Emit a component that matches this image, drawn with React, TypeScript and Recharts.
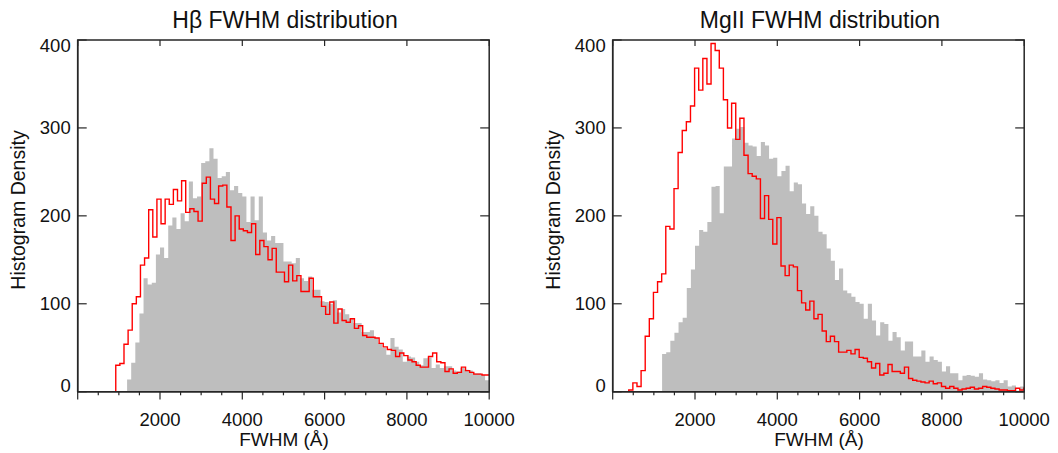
import { Area, ComposedChart, Line, XAxis, YAxis } from 'recharts'

const BIN = 100
const X_MAX = 10000
const X_TICKS = [0, 500, 1000, 1500, 2000, 2500, 3000, 3500, 4000, 4500, 5000, 5500, 6000, 6500, 7000, 7500, 8000, 8500, 9000, 9500, 10000]
const Y_TICKS = [0, 100, 200, 300, 400]

// H-beta panel
const HB_GRAY_START = 1200
const HB_GRAY = [
  14, 33, 56, 89, 129, 122, 124, 156, 164, 152,
  189, 198, 185, 203, 194, 239, 220, 222, 260, 262,
  277, 265, 243, 245, 250, 229, 234, 226, 222, 193,
  222, 195, 222, 181, 172, 177, 169, 169, 148, 148,
  146, 152, 129, 126, 131, 116, 116, 103, 102, 100,
  104, 90, 94, 88, 83, 78, 78, 68, 68, 70,
  61, 55, 50, 42, 61, 51, 48, 34, 40, 39,
  34, 30, 38, 39, 27, 31, 27, 29, 29, 24,
  23, 27, 25, 24, 21, 21, 19, 13,
]
const HB_RED_START = 925
const HB_RED = [
  30, 32, 54, 70, 100, 108, 144, 152, 207, 176,
  219, 191, 219, 213, 230, 217, 240, 204, 208, 205,
  194, 237, 244, 219, 214, 234, 235, 210, 172, 200,
  185, 183, 181, 191, 156, 172, 165, 150, 163, 136,
  136, 125, 144, 126, 132, 114, 114, 129, 108, 108,
  97, 88, 102, 78, 94, 81, 79, 83, 72, 75,
  64, 62, 62, 61, 55, 51, 48, 47, 40, 44,
  41, 36, 34, 30, 28, 28, 40, 44, 34, 33,
  23, 26, 21, 22, 28, 24, 22, 20, 20, 19,
  19,
]

// MgII panel
const MG_GRAY_START = 1200
const MG_GRAY = [
  43, 45, 58, 67, 79, 84, 118, 139, 166, 184,
  182, 193, 233, 234, 203, 256, 256, 288, 299, 301,
  283, 280, 279, 268, 284, 280, 265, 266, 245, 251,
  257, 228, 238, 236, 214, 202, 211, 200, 182, 179,
  163, 149, 127, 140, 115, 112, 108, 102, 100, 83,
  100, 81, 64, 79, 77, 58, 68, 62, 47, 57,
  57, 40, 40, 47, 34, 40, 36, 34, 23, 29,
  21, 21, 13, 18, 19, 18, 17, 21, 14, 13,
  12, 13, 10, 13, 6, 7, 1, 6,
]
const MG_RED_START = 390
const MG_RED = [
  2, 10, 6, 24, 63, 83, 113, 125, 134, 188,
  185, 231, 272, 297, 307, 325, 368, 343, 379, 350,
  396, 388, 368, 332, 300, 328, 287, 311, 269, 248,
  245, 242, 197, 223, 196, 168, 198, 143, 132, 144,
  142, 115, 101, 93, 103, 83, 88, 69, 57, 63,
  57, 45, 45, 47, 43, 48, 39, 38, 34, 27,
  32, 19, 21, 31, 23, 23, 21, 28, 15, 13,
  12, 11, 10, 12, 9, 10, 6, 4, 6, 4,
  2, 3, 4, 5, 3, 4, 6, 5, 4, 3,
  2, 2, 1, 1, 4, 2, 4,
]

const PANEL_W = 520
const HEIGHT = 453
const PLOT_LEFT = 77.7
const PLOT_RIGHT = 489.2
const PLOT_TOP = 40
const PLOT_BOTTOM = 391.7
const FRAME = '#262626'
const FONT = '"Liberation Sans", Arial, Helvetica, sans-serif'

// step points for a histogram: one point per bin start plus the closing edge
function steps(start: number, values: number[], fromZero: boolean) {
  const pts = values.map((v, i) => ({ x: start + i * BIN, y: v }))
  pts.push({ x: Math.min(start + values.length * BIN, X_MAX), y: values[values.length - 1] })
  if (fromZero) pts.unshift({ x: start, y: 0 })
  return pts
}

function XTick(props: any) {
  const { x, payload } = props
  const v = payload.value as number
  const major = v % 2000 === 0
  return (
    <g>
      <line x1={x} x2={x} y1={PLOT_BOTTOM} y2={PLOT_BOTTOM + (major ? 7.7 : 3.6)} stroke={FRAME} strokeWidth={1.2} />
      {major && <line x1={x} x2={x} y1={PLOT_TOP} y2={PLOT_TOP + 6} stroke={FRAME} strokeWidth={1.2} />}
      {major && v > 0 && (
        <text x={x} y={426} textAnchor="middle" fontSize={18.5} fontFamily={FONT} fill="#111">
          {v}
        </text>
      )}
    </g>
  )
}

function YTick(props: any) {
  const { y, payload } = props
  const v = payload.value as number
  const dy = v === 0 ? 0 : v === 400 ? 12 : 6.5
  return (
    <g>
      <line x1={PLOT_LEFT} x2={PLOT_LEFT + 9} y1={y} y2={y} stroke={FRAME} strokeWidth={1.2} />
      <line x1={PLOT_RIGHT} x2={PLOT_RIGHT - 9} y1={y} y2={y} stroke={FRAME} strokeWidth={1.2} />
      <text x={PLOT_LEFT - 7} y={y + dy} textAnchor="end" fontSize={18.5} fontFamily={FONT} fill="#111">
        {v}
      </text>
    </g>
  )
}

interface PanelProps {
  left: number
  title: string
  gray: { x: number; y: number }[]
  red: { x: number; y: number }[]
}

function Panel({ left, title, gray, red }: PanelProps) {
  return (
    <div style={{ position: 'absolute', left, top: 0, width: PANEL_W, height: HEIGHT }}>
      <ComposedChart
        width={PANEL_W}
        height={HEIGHT}
        margin={{ top: PLOT_TOP, right: PANEL_W - PLOT_RIGHT, bottom: 0, left: 0 }}
      >
        <XAxis
          type="number"
          dataKey="x"
          domain={[0, X_MAX]}
          allowDataOverflow
          ticks={X_TICKS}
          interval={0}
          tickLine={false}
          axisLine={{ stroke: FRAME, strokeWidth: 1.5 }}
          tick={XTick}
          height={HEIGHT - PLOT_BOTTOM}
        />
        <YAxis
          type="number"
          domain={[0, 400]}
          allowDataOverflow
          ticks={Y_TICKS}
          interval={0}
          tickLine={false}
          axisLine={{ stroke: FRAME, strokeWidth: 1.5 }}
          tick={YTick}
          width={PLOT_LEFT}
        />
        <Area
          data={gray}
          dataKey="y"
          type="stepAfter"
          fill="#bebebe"
          fillOpacity={1}
          stroke="none"
          isAnimationActive={false}
        />
        <Line
          data={red}
          dataKey="y"
          type="stepAfter"
          stroke="#ff0000"
          strokeWidth={1.4}
          dot={false}
          isAnimationActive={false}
        />
      </ComposedChart>
      <svg width={PANEL_W} height={HEIGHT} style={{ position: 'absolute', left: 0, top: 0, pointerEvents: 'none' }}>
        <path
          d={`M${PLOT_LEFT},${PLOT_TOP}H${PLOT_RIGHT}V${PLOT_BOTTOM}H${PLOT_LEFT}Z`}
          fill="none"
          stroke={FRAME}
          strokeWidth={1.5}
        />
        <text x={285} y={28} textAnchor="middle" fontSize={23} fontFamily={FONT} fill="#111">
          {title}
        </text>
        <text x={284} y={446} textAnchor="middle" fontSize={19} fontFamily={FONT} fill="#111">
          FWHM (Å)
        </text>
        <text
          transform="translate(25, 210) rotate(-90)"
          textAnchor="middle"
          fontSize={19.5}
          fontFamily={FONT}
          fill="#111"
        >
          Histogram Density
        </text>
      </svg>
    </div>
  )
}

export default function App() {
  return (
    <div
      style={{
        position: 'fixed',
        left: 0,
        top: 0,
        width: 1058,
        height: HEIGHT,
        background: '#fff',
        overflow: 'hidden',
      }}
    >
      <Panel
        left={0}
        title="Hβ FWHM distribution"
        gray={steps(HB_GRAY_START, HB_GRAY, false)}
        red={steps(HB_RED_START, HB_RED, true)}
      />
      <Panel
        left={535}
        title="MgII FWHM distribution"
        gray={steps(MG_GRAY_START, MG_GRAY, false)}
        red={steps(MG_RED_START, MG_RED, true)}
      />
    </div>
  )
}
